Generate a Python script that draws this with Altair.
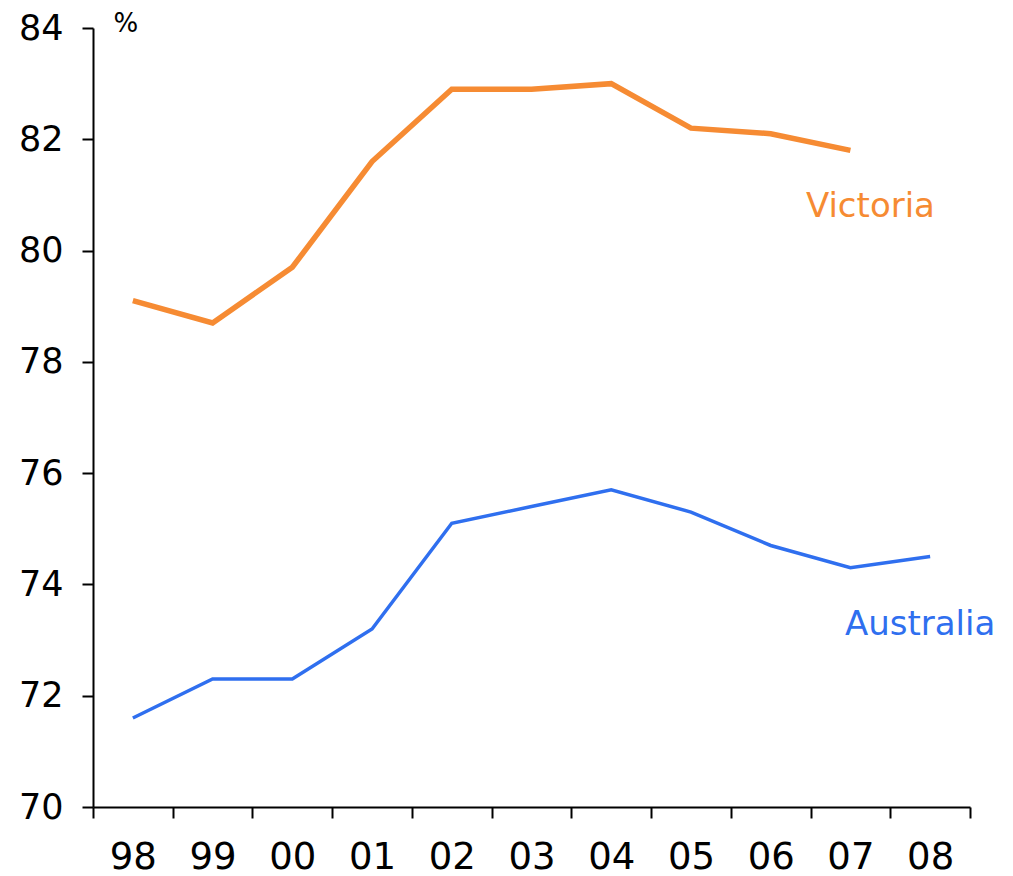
import altair as alt
import pandas as pd

years = ["98", "99", "00", "01", "02", "03", "04", "05", "06", "07", "08"]
victoria = [79.1, 78.7, 79.7, 81.6, 82.9, 82.9, 83.0, 82.2, 82.1, 81.8, None]
australia = [71.6, 72.3, 72.3, 73.2, 75.1, 75.4, 75.7, 75.3, 74.7, 74.3, 74.5]

label_names = ["Victoria", "Australia"]
label_years = ["07", "08"]
label_values = [80.6, 73.1]

series_colors = {"Victoria": "#F68B33", "Australia": "#2F6FEF"}

rows = []
for y, v, a in zip(years, victoria, australia):
    if v is not None:
        rows.append({"year": y, "value": v, "series": "Victoria"})
    rows.append({"year": y, "value": a, "series": "Australia"})
df = pd.DataFrame(rows)

labels = pd.DataFrame({"series": label_names, "year": label_years,
                       "value": label_values})

FONT = "DejaVu Sans"

x_enc = alt.X("year:O", sort=years,
              scale=alt.Scale(type="band", paddingInner=0, paddingOuter=0),
              axis=alt.Axis(title=None, tickBand="extent", labelAngle=0,
                            labelFontSize=37, labelFont=FONT, labelColor="black",
                            tickSize=11, tickWidth=2, tickColor="black",
                            domainColor="black", domainWidth=2,
                            labelPadding=21, grid=False))
y_enc = alt.Y("value:Q",
              scale=alt.Scale(domain=[70, 84], nice=False, zero=False),
              axis=alt.Axis(title="%", titleAngle=0, titleAlign="left",
                            titleBaseline="alphabetic", titleX=20, titleY=3,
                            titleFont=FONT, titleFontSize=26, titleFontWeight="normal",
                            titleColor="black", format="d",
                            values=[70, 72, 74, 76, 78, 80, 82, 84],
                            labelFontSize=35, labelFont=FONT, labelColor="black",
                            tickSize=11, tickWidth=2, tickColor="black",
                            domainColor="black", domainWidth=2,
                            labelPadding=19, grid=False))

color_scale = alt.Scale(domain=list(series_colors.keys()),
                        range=list(series_colors.values()))

vic = alt.Chart(df).transform_filter(alt.datum.series == "Victoria").mark_line(
    strokeWidth=5.5).encode(
    x=x_enc, y=y_enc,
    color=alt.Color("series:N", scale=color_scale, legend=None))
aus = alt.Chart(df).transform_filter(alt.datum.series == "Australia").mark_line(
    strokeWidth=3.5).encode(
    x=x_enc, y=y_enc,
    color=alt.Color("series:N", scale=color_scale, legend=None))

def label_layer(name, dx):
    return alt.Chart(labels).transform_filter(alt.datum.series == name).mark_text(
        font=FONT, fontSize=34, align="center", baseline="alphabetic", dx=dx).encode(
        x=alt.X("year:O", sort=years),
        y=alt.Y("value:Q"),
        text="series:N",
        color=alt.Color("series:N", scale=color_scale, legend=None))

chart = (vic + aus + label_layer("Victoria", 20) + label_layer("Australia", -10)).properties(
    width=877, height=779,
    background="white",
    autosize=alt.AutoSizeParams(type="none"),
    padding={"left": 85, "top": 20, "right": 35, "bottom": 69},
).configure_view(stroke=None)

chart.save("out.html", embed_options={"renderer": "svg", "actions": False})
